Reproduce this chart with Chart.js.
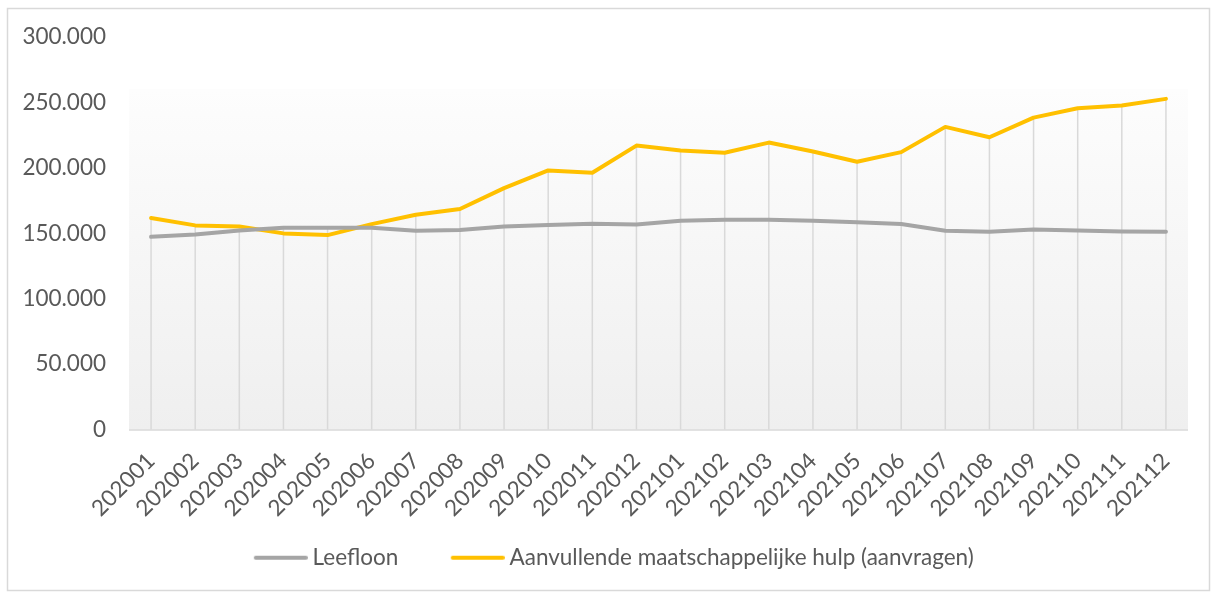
<!DOCTYPE html>
<html>
<head>
<meta charset="utf-8">
<script src="https://cdn.jsdelivr.net/npm/chart.js@4/dist/chart.umd.min.js"></script>
<style>
html,body{margin:0;padding:0;background:#fff;}
#wrap{width:1215px;height:593px;position:relative;}
</style>
</head>
<body>
<div id="wrap"><canvas id="c" width="1215" height="593"></canvas></div>
<script>
const categories = ['202001','202002','202003','202004','202005','202006','202007','202008','202009','202010','202011','202012','202101','202102','202103','202104','202105','202106','202107','202108','202109','202110','202111','202112'];
const leefloon = [147300,149100,152100,154200,154200,154200,151900,152400,155200,156300,157300,156700,159500,160300,160300,159500,158500,157000,151900,151200,152900,152100,151400,151200];
const aanvullende = [161600,156000,155200,149900,148600,157000,164100,168500,184500,198000,196200,217000,213200,211500,219300,212500,204600,212000,231300,223400,238400,245600,247600,252700];
const seriesNames = ['Leefloon','Aanvullende maatschappelijke hulp (aanvragen)'];
const yTicks = [0,50000,100000,150000,200000,250000,300000];

function fmt(v){ return String(v).replace(/\B(?=(\d{3})+(?!\d))/g,'.'); }

const FONT = 'Lato, "Open Sans", sans-serif';
const FS = 22.5;
const TXT = '#595959';
const COLORS = ['#a5a5a5','#ffc000'];

function legendMark(color){
  const c = document.createElement('canvas');
  c.width = 84; c.height = 8;
  const g = c.getContext('2d');
  g.strokeStyle = color; g.lineWidth = 4; g.lineCap = 'round';
  g.beginPath(); g.moveTo(32, 4); g.lineTo(82, 4); g.stroke();
  return c;
}

const decor = {
  id:'decor',
  beforeDraw(chart){
    const ctx = chart.ctx, a = chart.chartArea;
    ctx.save();
    ctx.strokeStyle = '#d9d9d9'; ctx.lineWidth = 1.5;
    ctx.strokeRect(7.5, 8.5, 1202, 582);
    const top = a.top + (a.bottom - a.top) * 0.132;
    const g = ctx.createLinearGradient(0, top, 0, a.bottom);
    g.addColorStop(0, '#fdfdfd'); g.addColorStop(1, '#efefef');
    ctx.fillStyle = g;
    ctx.fillRect(a.left, top, a.right - a.left, a.bottom - top);
    ctx.restore();
  },
  beforeDatasetsDraw(chart){
    const ctx = chart.ctx, a = chart.chartArea;
    const xs = chart.scales.x, ys = chart.scales.y;
    ctx.save();
    ctx.strokeStyle = '#d9d9d9'; ctx.lineWidth = 1.5;
    categories.forEach((c,i)=>{
      const v = Math.max(leefloon[i], aanvullende[i]);
      const x = xs.getPixelForValue(i);
      ctx.beginPath(); ctx.moveTo(x, ys.getPixelForValue(v)); ctx.lineTo(x, a.bottom); ctx.stroke();
    });
    ctx.beginPath(); ctx.moveTo(a.left, a.bottom + 0.5); ctx.lineTo(a.right, a.bottom + 0.5);
    ctx.lineWidth = 1.5; ctx.stroke();
    ctx.restore();
  }
};

new Chart(document.getElementById('c'), {
  type:'line',
  data:{
    labels: categories,
    datasets:[
      {label:seriesNames[0], data:leefloon, borderColor:COLORS[0], backgroundColor:COLORS[0], borderWidth:4, pointRadius:0, tension:0, borderCapStyle:'round', borderJoinStyle:'round'},
      {label:seriesNames[1], data:aanvullende, borderColor:COLORS[1], backgroundColor:COLORS[1], borderWidth:4, pointRadius:0, tension:0, borderCapStyle:'round', borderJoinStyle:'round'}
    ]
  },
  options:{
    responsive:false, animation:false,
    layout:{padding:{top:37, right:27, left:16, bottom:14}},
    scales:{
      x:{
        offset:true,
        grid:{display:false, drawTicks:false},
        border:{display:false},
        ticks:{color:TXT, font:{family:FONT, size:FS}, maxRotation:45, minRotation:45, padding:18, autoSkip:false},
        afterFit(s){ s.height = 88; }
      },
      y:{
        min:0, max:300000,
        afterBuildTicks(s){ s.ticks = yTicks.map(v=>({value:v})); },
        grid:{display:false, drawTicks:false},
        border:{display:false},
        ticks:{color:TXT, font:{family:FONT, size:FS}, padding:23, callback:v=>fmt(v)},
        afterFit(s){ s.width = 113; }
      }
    },
    plugins:{
      tooltip:{enabled:false},
      legend:{
        position:'bottom',
        labels:{
          color:TXT, font:{family:FONT, size:FS}, usePointStyle:true, pointStyleWidth:71, boxHeight:4, padding:29,
          generateLabels(chart){
            return Chart.defaults.plugins.legend.labels.generateLabels(chart).map((l,i)=>Object.assign(l,{pointStyle:legendMark(COLORS[i]), lineWidth:0}));
          }
        }
      }
    }
  },
  plugins:[decor]
});
</script>
</body>
</html>
